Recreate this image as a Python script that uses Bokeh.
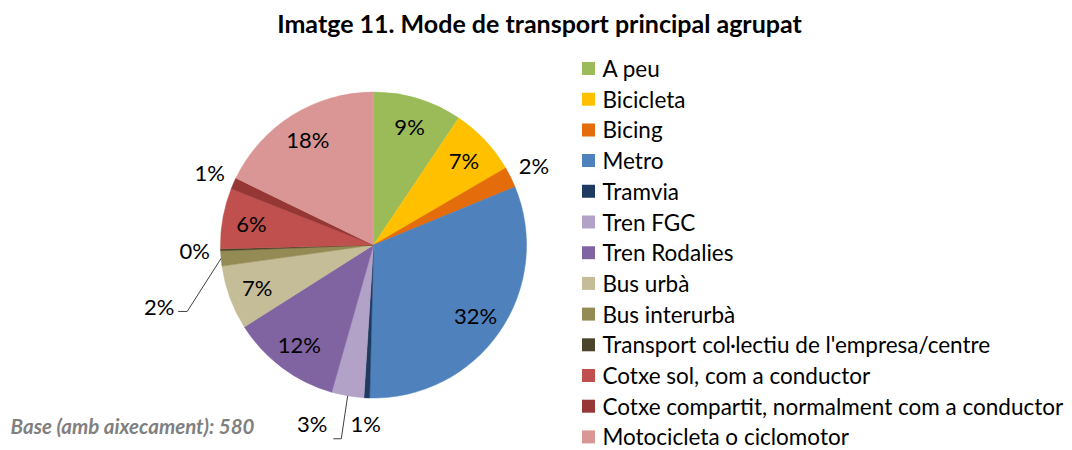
import math
from bokeh.plotting import figure
from bokeh.models import Range1d, ColumnDataSource
from bokeh.core.properties import value
from bokeh.embed import file_html
from bokeh.resources import INLINE

# ---------------- data ----------------
categories = [
    "A peu", "Bicicleta", "Bicing", "Metro", "Tramvia", "Tren FGC",
    "Tren Rodalies", "Bus urbà", "Bus interurbà",
    "Transport col·lectiu de l'empresa/centre",
    "Cotxe sol, com a conductor",
    "Cotxe compartit, normalment com a conductor",
    "Motocicleta o ciclomotor",
]
shares = [9.4, 7.2, 2.2, 31.6, 0.6, 3.4, 11.6, 6.8, 1.6, 0.2, 6.4, 1.2, 17.8]
colors = [
    "#9BBB59", "#FFC000", "#E46C0A", "#4F81BD", "#1F3A60", "#B3A2C7",
    "#8064A2", "#C4BD97", "#948A54", "#4A452A", "#C0504D", "#953735",
    "#D99694",
]
title_text = "Imatge 11. Mode de transport principal agrupat"
base_note = "Base (amb aixecament): 580"

# ---------------- layout ----------------
W, H = 1072, 450
FONT = "Lato"
p = figure(width=W, height=H, x_range=Range1d(0, W), y_range=Range1d(0, H),
           output_backend="svg", toolbar_location=None, min_border=0,
           x_axis_location=None, y_axis_location=None)
p.grid.visible = False
p.outline_line_color = None

cx, cy, R = 373, 205.5, 153

total = sum(shares)
starts, ends, mids = [], [], []
cum = 0.0
for v in shares:
    a0 = cum / total
    cum += v
    a1 = cum / total
    starts.append(math.pi / 2 - 2 * math.pi * a0)
    ends.append(math.pi / 2 - 2 * math.pi * a1)
    mids.append(360 * (a0 + a1) / 2)  # clockwise degrees from top

src = ColumnDataSource(dict(cat=categories, start=starts, end=ends, color=colors))
p.wedge(x=cx, y=cy, radius=R, start_angle="start", end_angle="end",
        direction="clock", fill_color="color", line_color="color",
        line_width=0.5, source=src)

# data labels
overrides = {5: (198.9, 1.235), 8: (254.0, 1.457)}
lx, ly, lt = [], [], []
for i, v in enumerate(shares):
    if i in overrides:
        ang, f = overrides[i]
    elif v >= 5:
        ang, f = mids[i], 0.81
    else:
        ang, f = mids[i], 1.17
    r = f * R
    lx.append(cx + r * math.sin(math.radians(ang)))
    ly.append(cy + r * math.cos(math.radians(ang)))
    lt.append(f"{round(v)}%")
p.text(x=lx, y=ly, text=lt, text_align="center", text_baseline="middle",
       text_font=value(FONT), text_font_size=value("22px"), text_color="#000000")

# leader lines for displaced labels
elbows = {5: ((29, -15), (21, -15)), 8: ((28, -5), (19, -5))}
xs, ys = [], []
for i, (e1, e2) in elbows.items():
    m = math.radians(mids[i])
    sx, sy = cx + R * math.sin(m), cy + R * math.cos(m)
    xs.append([sx, lx[i] + e1[0], lx[i] + e2[0]])
    ys.append([sy, ly[i] + e1[1], ly[i] + e2[1]])
p.multi_line(xs=xs, ys=ys, line_color="#404040", line_width=1)

# legend
leg_y = [H - (68.0 + 30.7 * i) for i in range(len(categories))]
p.scatter(x=[588] * len(categories), y=leg_y, marker="square", size=13,
          fill_color=colors, line_color=None)
p.text(x=[602] * len(categories), y=leg_y, text=categories, text_align="left",
       text_baseline="middle", text_font=value(FONT),
       text_font_size=value("22.5px"), text_color="#000000")

# title
p.text(x=[539], y=[H - 22], text=[title_text], text_align="center",
       text_baseline="middle", text_font=value(FONT),
       text_font_size=value("25px"), text_font_style="bold", text_color="#000000")

# base note
p.text(x=[10], y=[H - 425], text=[base_note], text_align="left",
       text_baseline="middle", text_font=value(FONT),
       text_font_size=value("20.5px"), text_font_style="bold italic",
       text_color="#808080")

open("out.html", "w").write(file_html(p, INLINE))
